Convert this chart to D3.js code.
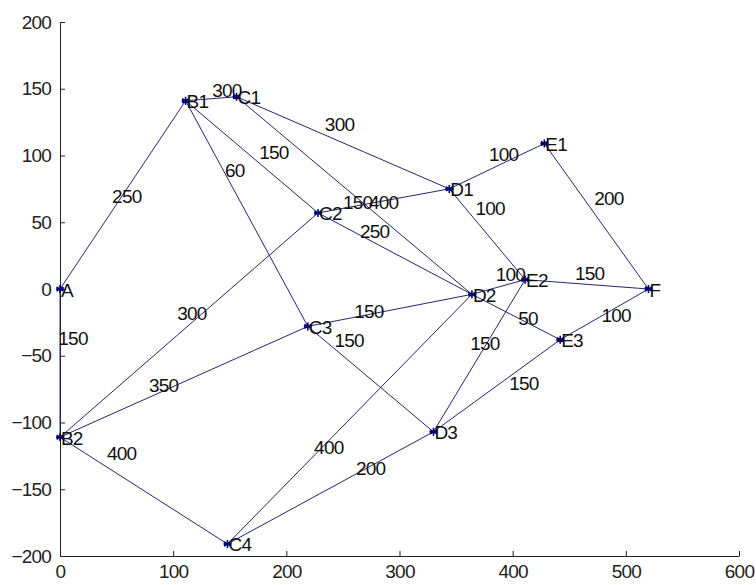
<!DOCTYPE html>
<html>
<head>
<meta charset="utf-8">
<script src="https://cdn.jsdelivr.net/npm/d3@7"></script>
<style>
  body { margin: 0; background: #fff; }
  svg text { font-family: "Liberation Sans", Arial, sans-serif; }
</style>
</head>
<body>
<svg></svg>
<script>
const width = 756;
const height = 585;
const margin = { left: 60, right: 17, top: 22, bottom: 29 };

// nodes of the graph
const nodeNames = ["A", "B1", "B2", "C1", "C2", "C3", "C4", "D1", "D2", "D3", "E1", "E2", "E3", "F"];
const nodeX = [0, 111, 0, 156, 228, 219, 148, 344, 364, 330, 428, 411, 442, 520];
const nodeY = [0, 141, -111, 144, 57, -28, -191, 75, -4, -107, 109, 7, -38, 0];

// edges with weights and where each weight label sits (data units)
const edgeFrom = ["A", "A", "B1", "B1", "B1", "C1", "C1", "C2", "C2", "C2", "B2", "B2", "C3", "C3", "C4", "C4", "D1", "D1", "D2", "D2", "D3", "D3", "E1", "E2", "E3"];
const edgeTo = ["B1", "B2", "C1", "C2", "C3", "D1", "D2", "D1", "D2", "B2", "C3", "C4", "D2", "D3", "D2", "D3", "E1", "E2", "E2", "E3", "E2", "E3", "F", "F", "F"];
const edgeWeight = [250, 150, 300, 150, 60, 300, 400, 150, 250, 300, 350, 400, 150, 150, 400, 200, 100, 100, 100, 50, 150, 150, 200, 150, 100];
const labelX = [59, 11.5, 147.5, 189, 154.5, 247, 286, 263, 278, 116.5, 91.5, 54.5, 273, 255.5, 237.5, 274.5, 392, 380, 398, 413.5, 375.5, 410, 485, 468, 491.5];
const labelY = [69, -37, 149, 102, 88.5, 123, 64.5, 64.5, 43, -18, -72, -123, -17, -38.5, -118.5, -134.5, 100.5, 60.5, 10.5, -22, -40.5, -70.5, 68, 11.5, -19.5];

const xTicks = [0, 100, 200, 300, 400, 500, 600];
const yTicks = [-200, -150, -100, -50, 0, 50, 100, 150, 200];

let svg = d3.select("svg")
    .attr("width", width)
    .attr("height", height);

let scX = d3.scaleLinear().domain([0, 600]).range([margin.left, width - margin.right]);
let scY = d3.scaleLinear().domain([-200, 200]).range([height - margin.bottom, margin.top]);

// axes, ticks pointing inside as in matlab
let axisX = d3.axisBottom(scX).tickValues(xTicks).tickSizeInner(-5).tickSizeOuter(0).tickPadding(9);
let axisY = d3.axisLeft(scY).tickValues(yTicks).tickSizeInner(-5).tickSizeOuter(0).tickPadding(9);

let gx = svg.append("g")
    .attr("transform", `translate(0, ${height - margin.bottom})`)
    .call(axisX);
let gy = svg.append("g")
    .attr("transform", `translate(${margin.left}, 0)`)
    .call(axisY);

[gx, gy].forEach(g => {
    g.select(".domain").attr("stroke", "#222");
    g.selectAll(".tick line").attr("stroke", "#222");
    g.selectAll(".tick text")
        .attr("fill", "#222")
        .style("font-size", "19px")
        .style("letter-spacing", "-0.8px");
});

const nodes = nodeNames.map((n, i) => ({ name: n, x: nodeX[i], y: nodeY[i] }));
const byName = new Map(nodes.map(d => [d.name, d]));
const edges = edgeFrom.map((f, i) => ({
    a: byName.get(f), b: byName.get(edgeTo[i]),
    w: edgeWeight[i], lx: labelX[i], ly: labelY[i]
}));

// edges
svg.selectAll(".edge")
    .data(edges)
    .enter()
    .append("line")
    .attr("x1", d => scX(d.a.x))
    .attr("y1", d => scY(d.a.y))
    .attr("x2", d => scX(d.b.x))
    .attr("y2", d => scY(d.b.y))
    .attr("stroke", "#26266e")
    .attr("stroke-width", 1);

// weights
svg.selectAll(".weight")
    .data(edges)
    .enter()
    .append("text")
    .attr("x", d => scX(d.lx))
    .attr("y", d => scY(d.ly))
    .attr("text-anchor", "middle")
    .attr("dominant-baseline", "central")
    .style("font-size", "19px")
    .style("letter-spacing", "-0.8px")
    .attr("fill", "#111")
    .text(d => d.w);

// node markers '*'
const star = (r) => {
    let p = "";
    for (let k = 0; k < 3; k++) {
        let a = k * Math.PI / 3 + Math.PI / 2;
        p += `M${r * Math.cos(a)},${r * Math.sin(a)}L${-r * Math.cos(a)},${-r * Math.sin(a)}`;
    }
    return p + `M${-r},0L${r},0`;
};
svg.selectAll(".node")
    .data(nodes)
    .enter()
    .append("path")
    .attr("d", star(4))
    .attr("transform", d => `translate(${scX(d.x)}, ${scY(d.y)})`)
    .attr("stroke", "#00007a")
    .attr("stroke-width", 1.6)
    .attr("fill", "none");

// node names
svg.selectAll(".name")
    .data(nodes)
    .enter()
    .append("text")
    .attr("x", d => scX(d.x) + 1)
    .attr("y", d => scY(d.y) + 1)
    .attr("dominant-baseline", "central")
    .style("font-size", "19px")
    .style("letter-spacing", "-0.8px")
    .attr("fill", "#111")
    .text(d => d.name);
</script>
</body>
</html>
